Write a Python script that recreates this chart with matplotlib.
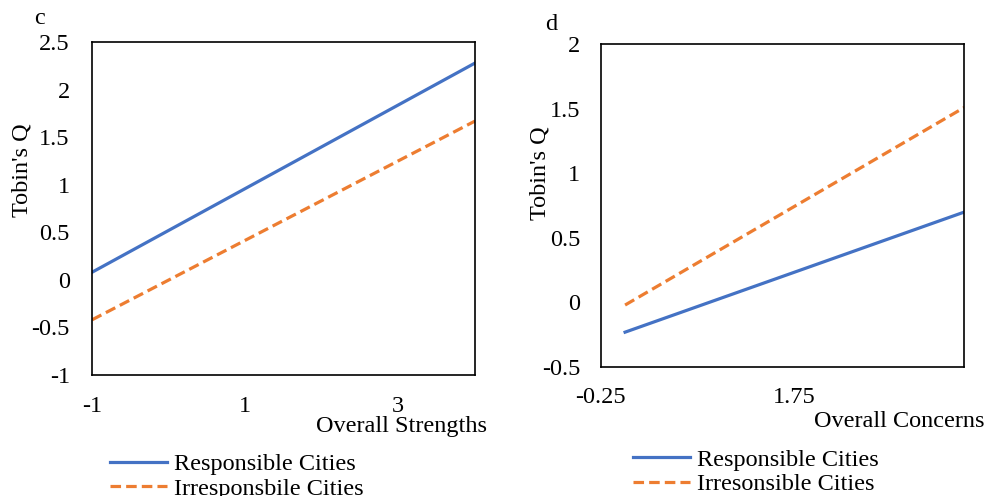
import matplotlib.pyplot as plt

plt.rcParams['font.family'] = ['Liberation Serif', 'DejaVu Serif']
plt.rcParams['font.size'] = 17.5

# panel c
x_c = [-1, 4]
resp_c = [0.08, 2.28]
irr_c = [-0.42, 1.67]

# panel d
x_d = [0, 3.5]
resp_d = [-0.23, 0.70]
irr_d = [-0.02, 1.51]

blue = '#4472C4'
orange = '#ED7D31'

fig = plt.figure(figsize=(9.85, 4.96), dpi=100)

ax1 = fig.add_axes([0.0934, 0.244, 0.3888, 0.671])
ax1.plot(x_c, resp_c, color=blue, lw=2.3, label='Responsible Cities')
ax1.plot(x_c, irr_c, color=orange, lw=2.3, ls=(0, (3.3, 1.6)), label='Irresponsbile Cities')
ax1.set_xlim(-1, 4)
ax1.set_ylim(-1, 2.5)
ax1.set_xticks([-1, 1, 3])
ax1.set_xticklabels(['-1', '1', '3'])
ax1.set_yticks([-1, -0.5, 0, 0.5, 1, 1.5, 2, 2.5])
ax1.set_yticklabels(['-1', '-0.5', '0', '0.5', '1', '1.5', '2', '2.5'])
ax1.tick_params(length=0, pad=15)
ax1.tick_params(axis='y', pad=16)
fig.text(0.022, 0.657, "Tobin's Q", rotation=90, ha='center', va='center')
fig.text(0.494, 0.141, 'Overall Strengths', ha='right', va='center')
fig.text(0.04, 0.963, 'c', ha='center', va='center')
ax1.legend(loc='upper left', bbox_to_anchor=(0.112, 0.086), bbox_transform=fig.transFigure,
           frameon=False, handlelength=2.35, handletextpad=0.25, labelspacing=0.1,
           borderpad=0, borderaxespad=0)

ax2 = fig.add_axes([0.610, 0.260, 0.369, 0.651])
ax2.plot(x_d, resp_d, color=blue, lw=2.3, label='Responsible Cities')
ax2.plot(x_d, irr_d, color=orange, lw=2.3, ls=(0, (3.3, 1.6)), label='Irresonsible Cities')
ax2.set_xlim(-0.25, 3.5)
ax2.set_ylim(-0.5, 2)
ax2.set_xticks([-0.25, 1.75])
ax2.set_xticklabels(['-0.25', '1.75'])
ax2.tick_params(length=0, pad=14.5)
ax2.set_yticks([-0.5, 0, 0.5, 1, 1.5, 2])
ax2.set_yticklabels(['-0.5', '0', '0.5', '1', '1.5', '2'])
ax2.tick_params(axis='y', pad=15)
fig.text(0.548, 0.651, "Tobin's Q", rotation=90, ha='center', va='center')
fig.text(0.999, 0.151, 'Overall Concerns', ha='right', va='center')
fig.text(0.56, 0.95, 'd', ha='center', va='center')
ax2.legend(loc='upper left', bbox_to_anchor=(0.643, 0.095), bbox_transform=fig.transFigure,
           frameon=False, handlelength=2.35, handletextpad=0.25, labelspacing=0.1,
           borderpad=0, borderaxespad=0)

for ax in (ax1, ax2):
    for s in ax.spines.values():
        s.set_color('black')
        s.set_linewidth(1.2)

fig.savefig('out.png', dpi=100)
